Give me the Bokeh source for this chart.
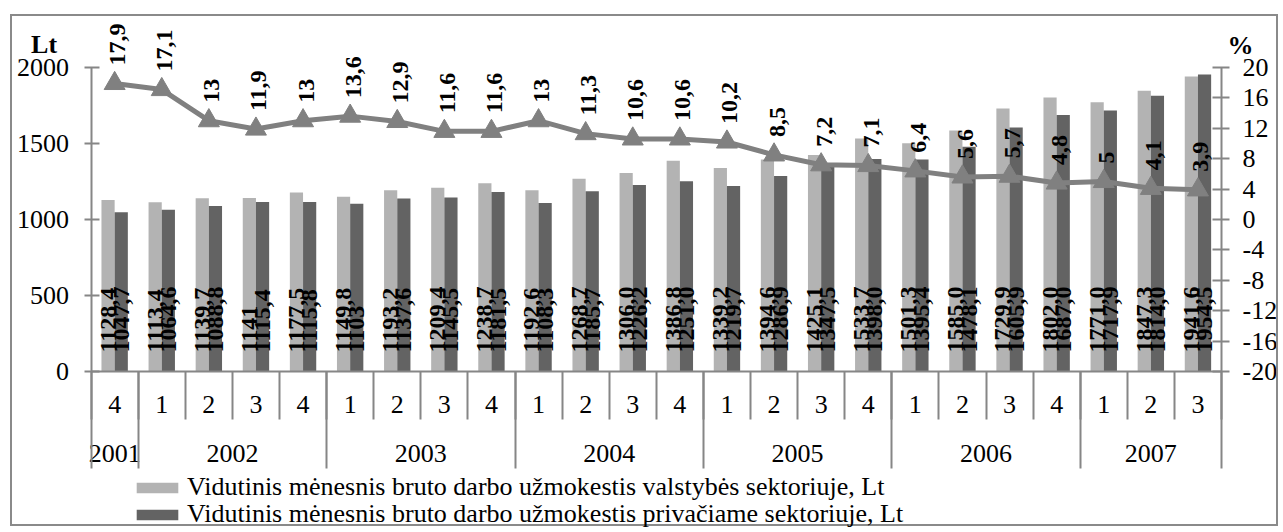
import math
from bokeh.plotting import figure
from bokeh.models import (Range1d, LinearAxis, FixedTicker, Legend, LegendItem,
                          ColumnDataSource, CustomJSTickFormatter)
from bokeh.core.properties import value
from bokeh.embed import file_html
from bokeh.resources import INLINE

# ---------------- data ----------------
years = ["2001", "2002", "2003", "2004", "2005", "2006", "2007"]
year_of = ["2001",
           "2002", "2002", "2002", "2002",
           "2003", "2003", "2003", "2003",
           "2004", "2004", "2004", "2004",
           "2005", "2005", "2005", "2005",
           "2006", "2006", "2006", "2006",
           "2007", "2007", "2007"]
quarters = ["4", "1", "2", "3", "4", "1", "2", "3", "4", "1", "2", "3", "4",
            "1", "2", "3", "4", "1", "2", "3", "4", "1", "2", "3"]

public = [1128.4, 1113.4, 1139.7, 1141.0, 1177.5, 1149.8, 1193.2, 1209.4, 1238.7,
          1192.6, 1268.7, 1306.0, 1386.8, 1339.2, 1394.6, 1425.1, 1533.7, 1501.3,
          1585.0, 1729.9, 1802.0, 1771.0, 1847.3, 1941.6]
private = [1047.7, 1064.6, 1088.8, 1115.4, 1115.8, 1103.0, 1137.6, 1145.5, 1181.5,
           1108.3, 1185.7, 1226.2, 1251.0, 1219.7, 1286.9, 1347.5, 1398.0, 1395.4,
           1478.1, 1605.9, 1687.0, 1717.9, 1814.0, 1954.5]
public_labels = ["1128,4", "1113,4", "1139,7", "1141", "1177,5", "1149,8", "1193,2",
                 "1209,4", "1238,7", "1192,6", "1268,7", "1306,0", "1386,8", "1339,2",
                 "1394,6", "1425,1", "1533,7", "1501,3", "1585,0", "1729,9", "1802,0",
                 "1771,0", "1847,3", "1941,6"]
private_labels = ["1047,7", "1064,6", "1088,8", "1115,4", "1115,8", "1103", "1137,6",
                  "1145,5", "1181,5", "1108,3", "1185,7", "1226,2", "1251,0", "1219,7",
                  "1286,9", "1347,5", "1398,0", "1395,4", "1478,1", "1605,9", "1687,0",
                  "1717,9", "1814,0", "1954,5"]
growth = [17.9, 17.1, 13, 11.9, 13, 13.6, 12.9, 11.6, 11.6, 13, 11.3, 10.6, 10.6,
          10.2, 8.5, 7.2, 7.1, 6.4, 5.6, 5.7, 4.8, 5, 4.1, 3.9]

left_ticks = [0, 500, 1000, 1500, 2000]
right_ticks = [-20, -16, -12, -8, -4, 0, 4, 8, 12, 16, 20]

legend_public = "Vidutinis mėnesnis bruto darbo užmokestis valstybės sektoriuje, Lt"
legend_private = "Vidutinis mėnesnis bruto darbo užmokestis privačiame sektoriuje, Lt"

# ---------------- derived ----------------
n = len(quarters)
centers = [i + 0.5 for i in range(n)]
bw = 0.28
x_pub = [c - bw / 2 for c in centers]
x_pri = [c + bw / 2 for c in centers]


def fmt(v):
    s = ("%.1f" % v).replace(".", ",")
    return s[:-2] if s.endswith(",0") else s


growth_labels = [fmt(v) for v in growth]

year_bounds = [0]
year_centers = []
for y in years:
    idx = [i for i, yy in enumerate(year_of) if yy == y]
    year_bounds.append(idx[-1] + 1)
    year_centers.append((idx[0] + idx[-1] + 1) / 2)

FONT = "Liberation Serif"
GREY_AX = "#868686"
LIGHT = "#b3b3b3"
DARK = "#636363"
LINE = "#808080"

# ---------------- geometry (pixels of the canvas) ----------------
W, H = 1268, 512
ax_left_px, ax_right_px = 78.6, 1209.0     # category 0 .. n
zero_px, top_px = 355.0, 51.0              # value 0 and value 2000 (from canvas top)
ppu_x = (ax_right_px - ax_left_px) / n
ppu_y = (zero_px - top_px) / 2000.0
x0 = -ax_left_px / ppu_x
x1 = n + (W - ax_right_px) / ppu_x
y0 = -(H - zero_px) / ppu_y
y1 = zero_px / ppu_y
ppu_pct = (zero_px - top_px) / 40.0
pct0 = -20 - (H - zero_px) / ppu_pct
pct1 = -20 + zero_px / ppu_pct

p = figure(width=W, height=H, x_range=Range1d(x0, x1), y_range=Range1d(y0, y1),
           output_backend="svg", toolbar_location=None,
           x_axis_location=None, y_axis_location=None,
           min_border_left=0, min_border_right=0, min_border_top=0, min_border_bottom=0)
p.styles = {"border": "2px solid #8a8a8a", "margin-left": "10px", "margin-top": "14px"}
p.outline_line_color = None
p.grid.visible = False
p.background_fill_color = "white"
p.border_fill_color = "white"
p.extra_y_ranges = {"pct": Range1d(pct0, pct1)}

src = ColumnDataSource(dict(x_pub=x_pub, x_pri=x_pri, pub=public, pri=private,
                            pub_l=public_labels, pri_l=private_labels,
                            c=centers, g=growth, g_l=growth_labels))

r_pub = p.vbar(x="x_pub", top="pub", width=bw, source=src, fill_color=LIGHT, line_color=None)
r_pri = p.vbar(x="x_pri", top="pri", width=bw, source=src, fill_color=DARK, line_color=None)

p.line(x="c", y="g", source=src, y_range_name="pct", line_color=LINE, line_width=5)
p.scatter(x="c", y="g", source=src, y_range_name="pct", marker="triangle", size=21,
          fill_color=LINE, line_color=LINE)

lab_kw = dict(angle=math.pi / 2, text_align="left", text_baseline="middle",
              text_font=value(FONT), text_font_style="bold", text_font_size="24px",
              text_color="black")
p.text(x="x_pub", y=0, text="pub_l", source=src, y_offset=-19, **lab_kw)
p.text(x="x_pri", y=0, text="pri_l", source=src, y_offset=-19, **lab_kw)
p.text(x="c", y="g", text="g_l", source=src, y_range_name="pct", y_offset=-18, x_offset=3,
       **lab_kw)

# axis titles
p.text(x=[-47 / ppu_x], y=[(zero_px - 28) / ppu_y], text=["Lt"], text_align="center",
       text_baseline="middle", text_font=value(FONT), text_font_style="bold",
       text_font_size="26px", text_color="black")
p.text(x=[n + 19 / ppu_x], y=[(zero_px - 29) / ppu_y], text=["%"], text_align="center",
       text_baseline="middle", text_font=value(FONT), text_font_style="bold",
       text_font_size="26px", text_color="black")


def base_axis(ax):
    ax.axis_line_color = GREY_AX
    ax.axis_line_width = 2
    ax.major_tick_line_color = GREY_AX
    ax.major_tick_line_width = 2
    ax.minor_tick_line_color = None
    ax.major_label_text_font = FONT
    ax.major_label_text_font_size = "26px"
    ax.major_label_text_color = "black"


# left value axis
la = LinearAxis(fixed_location=0, ticker=FixedTicker(ticks=left_ticks), bounds=(0, 2000))
base_axis(la)
la.major_tick_in = 8
la.major_tick_out = 7
la.major_label_standoff = 15
p.add_layout(la, "left")

# right percent axis
ra = LinearAxis(fixed_location=n, y_range_name="pct", ticker=FixedTicker(ticks=right_ticks),
                bounds=(-20, 20),
                formatter=CustomJSTickFormatter(code="return tick.toString();"))
base_axis(ra)
ra.major_tick_in = 9
ra.major_tick_out = 8
ra.major_label_standoff = 13
p.add_layout(ra, "right")

# quarter labels + axis line
qa = LinearAxis(fixed_location=0, ticker=FixedTicker(ticks=centers), bounds=(0, n),
                formatter=CustomJSTickFormatter(args=dict(labels=quarters),
                                                code="return labels[Math.floor(tick)];"))
base_axis(qa)
qa.major_tick_line_color = None
qa.major_tick_in = 0
qa.major_tick_out = 0
qa.major_label_standoff = 24
p.add_layout(qa, "below")

# year labels
ya = LinearAxis(fixed_location=0, ticker=FixedTicker(ticks=year_centers), bounds=(0, n),
                formatter=CustomJSTickFormatter(args=dict(labels=year_of),
                                                code="return labels[Math.floor(tick)];"))
base_axis(ya)
ya.axis_line_color = None
ya.major_tick_line_color = None
ya.major_tick_in = 0
ya.major_tick_out = 0
ya.major_label_standoff = 73
p.add_layout(ya, "below")

# separators between quarters
sa = LinearAxis(fixed_location=0, ticker=FixedTicker(ticks=list(range(n + 1))), bounds=(0, n))
base_axis(sa)
sa.axis_line_color = None
sa.major_tick_in = 0
sa.major_tick_out = 48
sa.major_label_text_color = None
p.add_layout(sa, "below")

# separators between years
sb = LinearAxis(fixed_location=0, ticker=FixedTicker(ticks=year_bounds), bounds=(0, n))
base_axis(sb)
sb.axis_line_color = None
sb.major_tick_in = 0
sb.major_tick_out = 97
sb.major_label_text_color = None
p.add_layout(sb, "below")

# legends (one row each)
for label, rend, loc in [(legend_public, r_pub, (119, 26)), (legend_private, r_pri, (119, -1))]:
    lg = Legend(items=[LegendItem(label=label, renderers=[rend])], location=loc,
                glyph_width=52, glyph_height=13, label_standoff=4, padding=0, margin=0,
                spacing=0, border_line_color=None, background_fill_alpha=0,
                label_text_font=FONT, label_text_font_size="26px",
                label_text_color="black")
    p.add_layout(lg, "center")

open("out.html", "w").write(file_html(p, INLINE))
